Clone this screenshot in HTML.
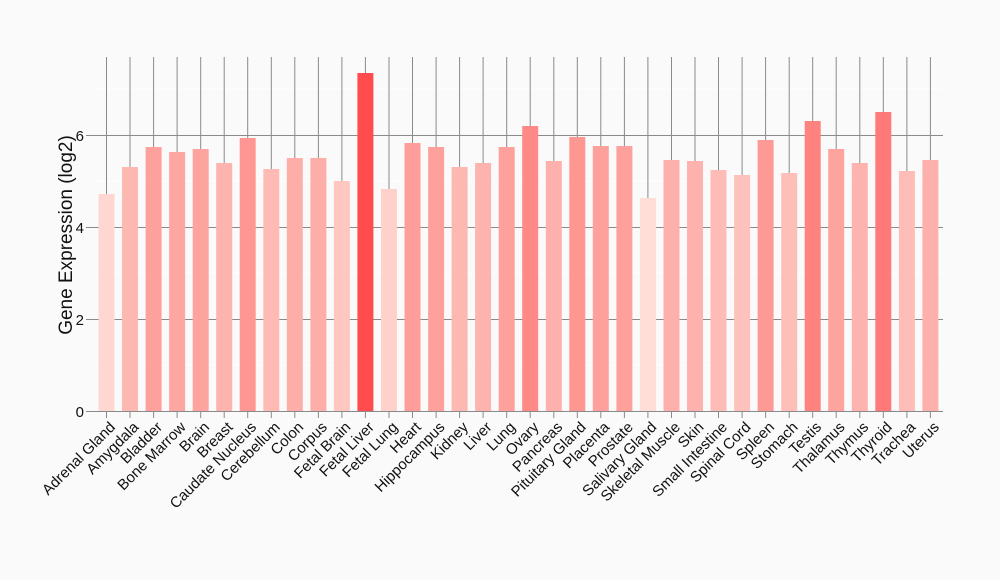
<!DOCTYPE html>
<html><head><meta charset="utf-8"><style>
html,body{margin:0;padding:0;background:#fafafa;}
svg{display:block;font-family:"Liberation Sans",Arial,sans-serif;}
</style></head><body>
<svg width="1000" height="580" viewBox="0 0 1000 580">
<rect width="1000" height="580" fill="#fafafa"/>
<g stroke="#ffffff" stroke-width="1">
<line x1="92" x2="943" y1="365" y2="365"/><line x1="92" x2="943" y1="273" y2="273"/><line x1="92" x2="943" y1="181" y2="181"/><line x1="92" x2="943" y1="89" y2="89"/>
</g>
<g stroke="#8a8a8a" stroke-width="1">
<line x1="92" x2="943" y1="319.5" y2="319.5"/><line x1="92" x2="943" y1="227.5" y2="227.5"/><line x1="92" x2="943" y1="135.5" y2="135.5"/>
<line x1="86" x2="92" y1="411.5" y2="411.5"/><line x1="86" x2="92" y1="319.5" y2="319.5"/><line x1="86" x2="92" y1="227.5" y2="227.5"/><line x1="86" x2="92" y1="135.5" y2="135.5"/>
<line x1="92" x2="943" y1="411.5" y2="411.5"/>
</g>
<g stroke="#8a8a8a" stroke-width="1">
<line x1="106.5" x2="106.5" y1="57" y2="418"/><line x1="130" x2="130" y1="57" y2="418"/><line x1="153.6" x2="153.6" y1="57" y2="418"/><line x1="177.1" x2="177.1" y1="57" y2="418"/><line x1="200.7" x2="200.7" y1="57" y2="418"/><line x1="224.2" x2="224.2" y1="57" y2="418"/><line x1="247.7" x2="247.7" y1="57" y2="418"/><line x1="271.3" x2="271.3" y1="57" y2="418"/><line x1="294.8" x2="294.8" y1="57" y2="418"/><line x1="318.4" x2="318.4" y1="57" y2="418"/><line x1="341.9" x2="341.9" y1="57" y2="418"/><line x1="365.4" x2="365.4" y1="57" y2="418"/><line x1="389" x2="389" y1="57" y2="418"/><line x1="412.5" x2="412.5" y1="57" y2="418"/><line x1="436.1" x2="436.1" y1="57" y2="418"/><line x1="459.6" x2="459.6" y1="57" y2="418"/><line x1="483.1" x2="483.1" y1="57" y2="418"/><line x1="506.7" x2="506.7" y1="57" y2="418"/><line x1="530.2" x2="530.2" y1="57" y2="418"/><line x1="553.8" x2="553.8" y1="57" y2="418"/><line x1="577.3" x2="577.3" y1="57" y2="418"/><line x1="600.8" x2="600.8" y1="57" y2="418"/><line x1="624.4" x2="624.4" y1="57" y2="418"/><line x1="647.9" x2="647.9" y1="57" y2="418"/><line x1="671.5" x2="671.5" y1="57" y2="418"/><line x1="695" x2="695" y1="57" y2="418"/><line x1="718.5" x2="718.5" y1="57" y2="418"/><line x1="742.1" x2="742.1" y1="57" y2="418"/><line x1="765.6" x2="765.6" y1="57" y2="418"/><line x1="789.2" x2="789.2" y1="57" y2="418"/><line x1="812.7" x2="812.7" y1="57" y2="418"/><line x1="836.2" x2="836.2" y1="57" y2="418"/><line x1="859.8" x2="859.8" y1="57" y2="418"/><line x1="883.3" x2="883.3" y1="57" y2="418"/><line x1="906.9" x2="906.9" y1="57" y2="418"/><line x1="930.4" x2="930.4" y1="57" y2="418"/>
</g>
<g>
<rect x="98.5" y="194" width="16" height="217" fill="rgb(254,216,208)"/>
<rect x="122" y="167" width="16" height="244" fill="rgb(254,184,178)"/>
<rect x="145.6" y="147" width="16" height="264" fill="rgb(254,161,157)"/>
<rect x="169.1" y="152" width="16" height="259" fill="rgb(254,167,162)"/>
<rect x="192.7" y="149" width="16" height="262" fill="rgb(254,164,159)"/>
<rect x="216.2" y="163" width="16" height="248" fill="rgb(254,180,174)"/>
<rect x="239.7" y="138" width="16" height="273" fill="rgb(254,151,147)"/>
<rect x="263.3" y="169" width="16" height="242" fill="rgb(254,187,181)"/>
<rect x="286.8" y="158" width="16" height="253" fill="rgb(254,174,169)"/>
<rect x="310.4" y="158" width="16" height="253" fill="rgb(254,174,169)"/>
<rect x="333.9" y="181" width="16" height="230" fill="rgb(254,200,193)"/>
<rect x="357.4" y="73" width="16" height="338" fill="rgb(255,77,77)"/>
<rect x="381" y="189" width="16" height="222" fill="rgb(254,210,203)"/>
<rect x="404.5" y="143" width="16" height="268" fill="rgb(254,157,153)"/>
<rect x="428.1" y="147" width="16" height="264" fill="rgb(254,161,157)"/>
<rect x="451.6" y="167" width="16" height="244" fill="rgb(254,184,178)"/>
<rect x="475.1" y="163" width="16" height="248" fill="rgb(254,180,174)"/>
<rect x="498.7" y="147" width="16" height="264" fill="rgb(254,161,157)"/>
<rect x="522.2" y="126" width="16" height="285" fill="rgb(254,137,134)"/>
<rect x="545.8" y="161" width="16" height="250" fill="rgb(254,177,172)"/>
<rect x="569.3" y="137" width="16" height="274" fill="rgb(254,150,146)"/>
<rect x="592.8" y="146" width="16" height="265" fill="rgb(254,160,156)"/>
<rect x="616.4" y="146" width="16" height="265" fill="rgb(254,160,156)"/>
<rect x="639.9" y="198" width="16" height="213" fill="rgb(254,222,214)"/>
<rect x="663.5" y="160" width="16" height="251" fill="rgb(254,177,172)"/>
<rect x="687" y="161" width="16" height="250" fill="rgb(254,178,173)"/>
<rect x="710.5" y="170" width="16" height="241" fill="rgb(254,188,182)"/>
<rect x="734.1" y="175" width="16" height="236" fill="rgb(254,194,188)"/>
<rect x="757.6" y="140" width="16" height="271" fill="rgb(254,154,150)"/>
<rect x="781.2" y="173" width="16" height="238" fill="rgb(254,191,185)"/>
<rect x="804.7" y="121" width="16" height="290" fill="rgb(254,131,128)"/>
<rect x="828.2" y="149" width="16" height="262" fill="rgb(254,164,159)"/>
<rect x="851.8" y="163" width="16" height="248" fill="rgb(254,180,174)"/>
<rect x="875.3" y="112" width="16" height="299" fill="rgb(254,121,119)"/>
<rect x="898.9" y="171" width="16" height="240" fill="rgb(254,189,183)"/>
<rect x="922.4" y="160" width="16" height="251" fill="rgb(254,177,172)"/>
</g>
<g font-size="15" fill="#111" text-anchor="end">
<text x="84" y="417">0</text><text x="84" y="325">2</text><text x="84" y="233">4</text><text x="84" y="141">6</text>
</g>
<text transform="translate(72,235) rotate(-90)" font-size="19" fill="#111" text-anchor="middle">Gene Expression (log2)</text>
<g font-size="15" fill="#111" text-anchor="end">
<text transform="translate(116,428) rotate(-45)">Adrenal Gland</text>
<text transform="translate(139.5,428) rotate(-45)">Amygdala</text>
<text transform="translate(163.1,428) rotate(-45)">Bladder</text>
<text transform="translate(186.6,428) rotate(-45)">Bone Marrow</text>
<text transform="translate(210.2,428) rotate(-45)">Brain</text>
<text transform="translate(233.7,428) rotate(-45)">Breast</text>
<text transform="translate(257.2,428) rotate(-45)">Caudate Nucleus</text>
<text transform="translate(280.8,428) rotate(-45)">Cerebellum</text>
<text transform="translate(304.3,428) rotate(-45)">Colon</text>
<text transform="translate(327.9,428) rotate(-45)">Corpus</text>
<text transform="translate(351.4,428) rotate(-45)">Fetal Brain</text>
<text transform="translate(374.9,428) rotate(-45)">Fetal Liver</text>
<text transform="translate(398.5,428) rotate(-45)">Fetal Lung</text>
<text transform="translate(422,428) rotate(-45)">Heart</text>
<text transform="translate(445.6,428) rotate(-45)">Hippocampus</text>
<text transform="translate(469.1,428) rotate(-45)">Kidney</text>
<text transform="translate(492.6,428) rotate(-45)">Liver</text>
<text transform="translate(516.2,428) rotate(-45)">Lung</text>
<text transform="translate(539.7,428) rotate(-45)">Ovary</text>
<text transform="translate(563.3,428) rotate(-45)">Pancreas</text>
<text transform="translate(586.8,428) rotate(-45)">Pituitary Gland</text>
<text transform="translate(610.3,428) rotate(-45)">Placenta</text>
<text transform="translate(633.9,428) rotate(-45)">Prostate</text>
<text transform="translate(657.4,428) rotate(-45)">Salivary Gland</text>
<text transform="translate(681,428) rotate(-45)">Skeletal Muscle</text>
<text transform="translate(704.5,428) rotate(-45)">Skin</text>
<text transform="translate(728,428) rotate(-45)">Small Intestine</text>
<text transform="translate(751.6,428) rotate(-45)">Spinal Cord</text>
<text transform="translate(775.1,428) rotate(-45)">Spleen</text>
<text transform="translate(798.7,428) rotate(-45)">Stomach</text>
<text transform="translate(822.2,428) rotate(-45)">Testis</text>
<text transform="translate(845.7,428) rotate(-45)">Thalamus</text>
<text transform="translate(869.3,428) rotate(-45)">Thymus</text>
<text transform="translate(892.8,428) rotate(-45)">Thyroid</text>
<text transform="translate(916.4,428) rotate(-45)">Trachea</text>
<text transform="translate(939.9,428) rotate(-45)">Uterus</text>
</g>
</svg>
</body></html>
